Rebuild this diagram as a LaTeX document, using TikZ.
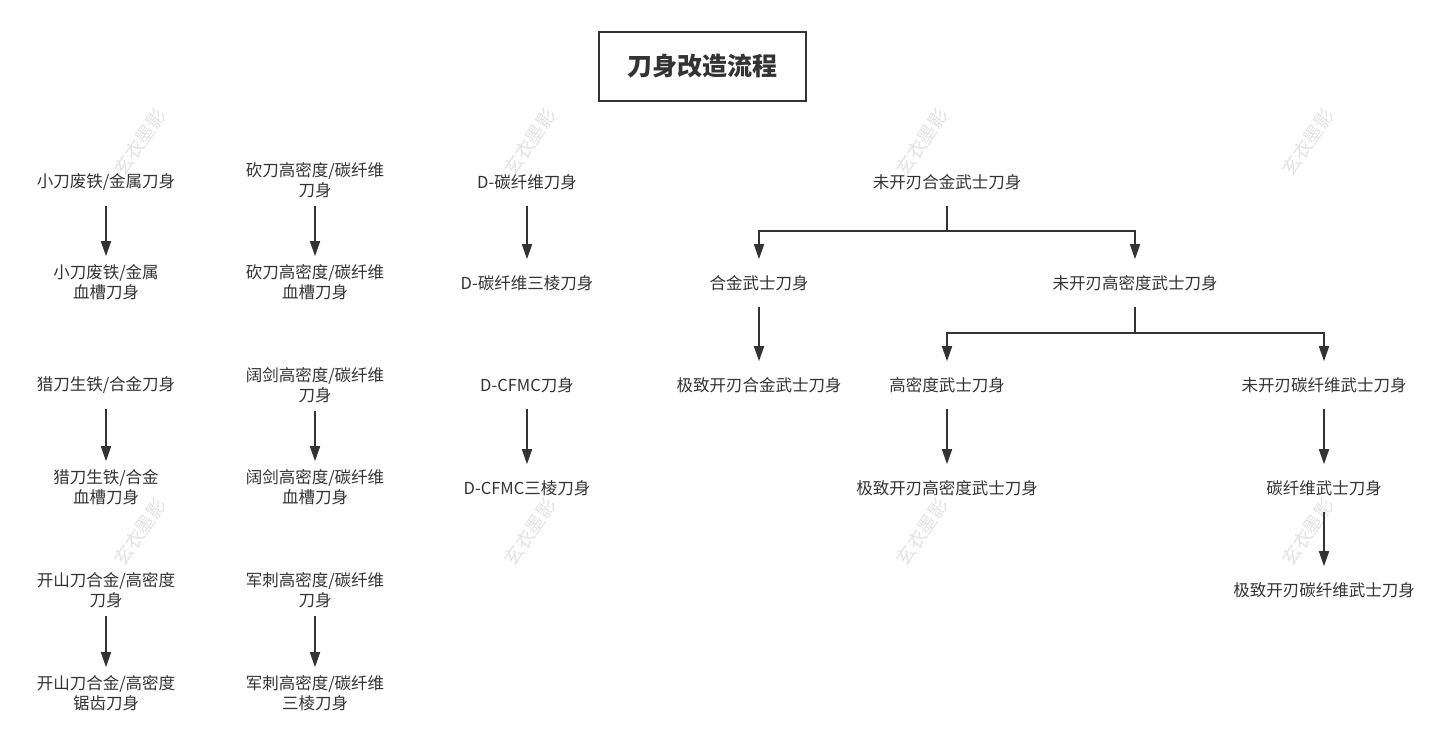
\documentclass[tikz,border=0pt]{standalone}
\usepackage{fontspec}
\setmainfont{Noto Sans CJK SC}
\usepackage{xcolor}
\usepackage{tikz}
\usetikzlibrary{arrows.meta}
\definecolor{ink}{HTML}{333333}

\begin{document}
\begin{tikzpicture}[x=1pt,y=-1pt,
                    line width=1.6pt,
                    box/.style={font=\fontsize{16.5}{20}\selectfont,
                    text=ink, align=center,
                    inner sep=0pt, minimum height=46pt},
                    box2/.style={box, minimum height=50pt},
                    arr/.style={draw=ink,-{Triangle[length=15pt,width=10pt]}},
                    wm/.style={text=black!11, rotate=55, inner sep=0pt,
                    font=\fontsize{19}{19}\selectfont}]
    \fill[white] (0,0) rectangle (1451,750);
    \useasboundingbox (0,0) rectangle (1451,750);

    % watermarks
    \foreach \x in {140,530,922,1308}
        \foreach \y in {142,532}
            \node[wm] (w-\x-\y) at (\x,\y) {玄衣墨影};

    \node[draw=ink, minimum width=207pt, minimum height=69pt, text=ink,
          font=\fontsize{25}{25}\selectfont\bfseries] (title) at (702.5,66.5) {刀身改造流程};

    % left columns
    \node[box]  (a1) at (106,182) {小刀废铁/金属刀身};
    \node[box2] (a2) at (106,282) {小刀废铁/金属\\血槽刀身};
    \node[box]  (a3) at (106,385) {猎刀生铁/合金刀身};
    \node[box2] (a4) at (106,487) {猎刀生铁/合金\\血槽刀身};
    \node[box2] (a5) at (106,590) {开山刀合金/高密度\\刀身};
    \node[box2] (a6) at (106,693) {开山刀合金/高密度\\锯齿刀身};

    \node[box2] (b1) at (315,180) {砍刀高密度/碳纤维\\刀身};
    \node[box2] (b2) at (315,282) {砍刀高密度/碳纤维\\血槽刀身};
    \node[box2] (b3) at (315,385) {阔剑高密度/碳纤维\\刀身};
    \node[box2] (b4) at (315,487) {阔剑高密度/碳纤维\\血槽刀身};
    \node[box2] (b5) at (315,590) {军刺高密度/碳纤维\\刀身};
    \node[box2] (b6) at (315,693) {军刺高密度/碳纤维\\三棱刀身};

    \node[box] (c1) at (527,182) {D-碳纤维刀身};
    \node[box] (c2) at (527,283) {D-碳纤维三棱刀身};
    \node[box] (c3) at (527,385) {D-CFMC刀身};
    \node[box] (c4) at (527,488) {D-CFMC三棱刀身};

    \foreach \s/\t in {a1/a2,a3/a4,a5/a6,b1/b2,b3/b4,b5/b6,c1/c2,c3/c4}
        \draw[arr] (\s) -- (\t);

    % katana tree
    \node[box] (r0) at (947,182)  {未开刃合金武士刀身};
    \node[box] (r1) at (759,283)  {合金武士刀身};
    \node[box] (r2) at (1135,283) {未开刃高密度武士刀身};
    \node[box] (r3) at (759,385)  {极致开刃合金武士刀身};
    \node[box] (r4) at (947,385)  {高密度武士刀身};
    \node[box] (r5) at (1324,385) {未开刃碳纤维武士刀身};
    \node[box] (r6) at (947,488)  {极致开刃高密度武士刀身};
    \node[box] (r7) at (1324,488) {碳纤维武士刀身};
    \node[box] (r8) at (1324,590) {极致开刃碳纤维武士刀身};

    \draw[arr] (r0.south) -- ++(0,25) -| (r1);
    \draw[arr] (r0.south) -- ++(0,25) -| (r2);
    \draw[arr] (r2.south) -- ++(0,26) -| (r4);
    \draw[arr] (r2.south) -- ++(0,26) -| (r5);
    \foreach \s/\t in {r1/r3,r4/r6,r5/r7,r7/r8}
        \draw[arr] (\s) -- (\t);

\end{tikzpicture}
\end{document}
